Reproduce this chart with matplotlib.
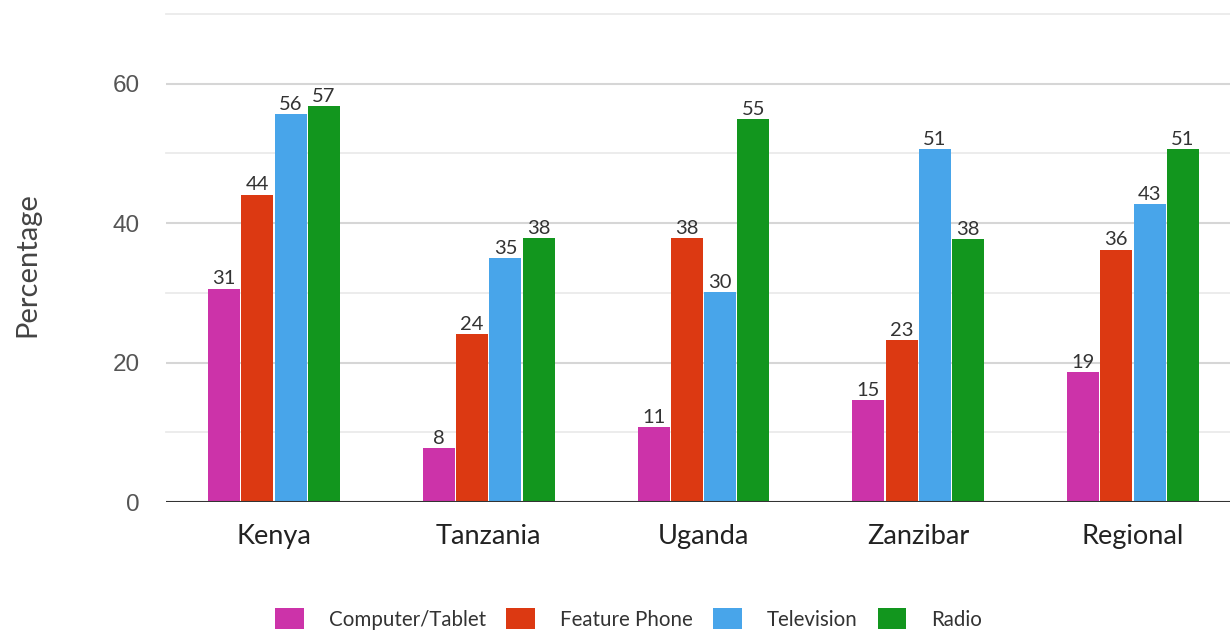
import numpy as np
import matplotlib
matplotlib.use("Agg")
import matplotlib.pyplot as plt
from matplotlib.patches import Patch

# data
regions = ["Kenya", "Tanzania", "Uganda", "Zanzibar", "Regional"]
series = ["Computer/Tablet", "Feature Phone", "Television", "Radio"]
computer = [30.6, 7.7, 10.7, 14.6, 18.6]
feature_phone = [44.1, 24.1, 37.8, 23.2, 36.2]
television = [55.6, 35.0, 30.1, 50.6, 42.7]
radio = [56.8, 37.8, 54.9, 37.7, 50.6]
colors = ["#cc33a9", "#dc3912", "#48a5ea", "#12961e"]

fig = plt.figure(figsize=(12.3, 6.31), dpi=100)
ax = fig.add_axes([0.135, 0.2044, 0.865, 0.7734])

x = np.arange(len(regions))
step = 0.1546
width = 0.149

for i, vals in enumerate([computer, feature_phone, television, radio]):
    pos = x + (i - 1.5) * step
    bars = ax.bar(pos, vals, width=width, color=colors[i], label=series[i], zorder=3)
    for b, v in zip(bars, vals):
        ax.text(b.get_x() + b.get_width() / 2, v + 0.2, "%.0f" % v,
                ha="center", va="bottom", fontsize=14.5, color="#333333",
                family=["Lato", "DejaVu Sans"], zorder=4)

ax.set_xlim(-0.503, 4.452)
ax.set_ylim(0, 70)

# gridlines: darker at labelled ticks, lighter in between
for y in [10, 30, 50, 70]:
    ax.axhline(y, color="#ebebeb", lw=1.3, zorder=1, clip_on=False)
for y in [20, 40, 60]:
    ax.axhline(y, color="#d6d6d6", lw=1.5, zorder=1)
ax.axhline(0, color="#333333", lw=1.5, zorder=5)

ax.set_yticks([0, 20, 40, 60])
ax.set_yticklabels(["0", "20", "40", "60"], family=["Liberation Sans", "DejaVu Sans"],
                   fontsize=17.5, color="#555555")
ax.set_xticks(x)
ax.set_xticklabels(regions, family=["Lato", "DejaVu Sans"], fontsize=19.5, color="#222222")
ax.tick_params(axis="y", length=0, pad=19)
ax.tick_params(axis="x", length=0, pad=16)

for s in ax.spines.values():
    s.set_visible(False)

fig.text(0.022, 0.58, "Percentage", rotation=90, ha="center", va="center",
         fontsize=21, color="#444444", family=["Lato", "DejaVu Sans"])

handles = [Patch(facecolor=c, edgecolor="none") for c in colors]
fig.legend(handles, series, loc="center", bbox_to_anchor=(0.511, 0.019), ncol=4,
           frameon=False, prop={"family": ["Lato", "DejaVu Sans"], "size": 14.8},
           handlelength=1.4, handleheight=1.2, handletextpad=1.2, columnspacing=1.0,
           labelcolor="#333333")

fig.savefig("out.png", dpi=100)
